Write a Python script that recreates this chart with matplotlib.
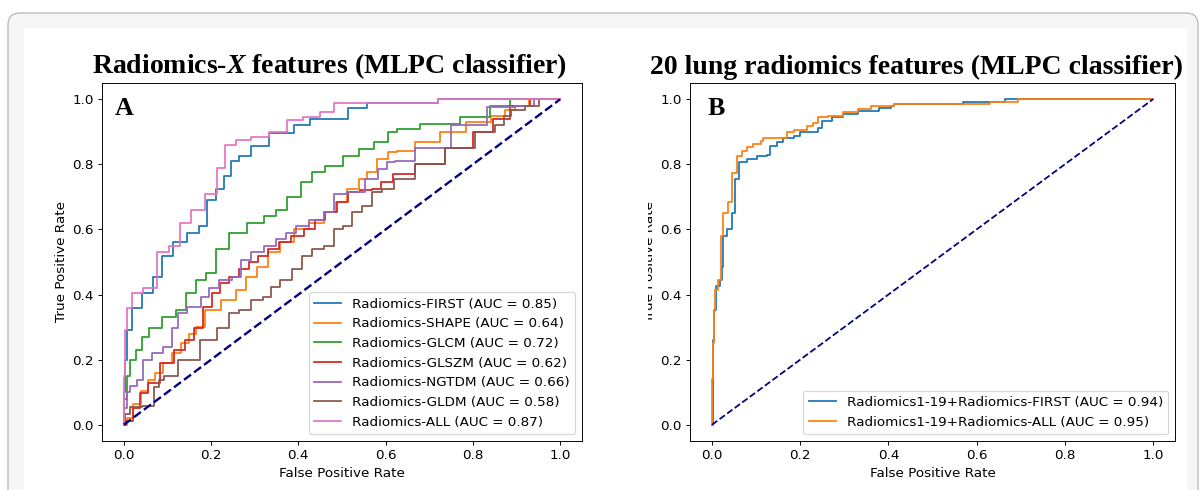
import numpy as np
import matplotlib
matplotlib.use('Agg')
import matplotlib.pyplot as plt
from matplotlib.patches import FancyBboxPatch, Rectangle
from matplotlib.transforms import IdentityTransform, Bbox

plt.rcParams['font.size'] = 11.4
plt.rcParams['mathtext.fontset'] = 'custom'
plt.rcParams['mathtext.it'] = 'Liberation Serif:bold:italic'
plt.rcParams['mathtext.rm'] = 'Liberation Serif:bold'

# panel A: Radiomics-X feature groups
first_fpr = [0, 0, 0.005, 0.009, 0.03, 0.055, 0.08, 0.096, 0.13, 0.16, 0.183, 0.2, 0.222, 0.238, 0.252, 0.275, 0.306, 0.36, 0.42, 0.435, 0.513, 0.515, 0.60, 0.72, 0.72, 1.0]
first_tpr = [0, 0.1, 0.2, 0.29, 0.36, 0.405, 0.455, 0.517, 0.56, 0.59, 0.61, 0.69, 0.725, 0.765, 0.81, 0.825, 0.855, 0.895, 0.92, 0.94, 0.94, 0.972, 0.988, 0.988, 1.0, 1.0]

shape_fpr = [0, 0.005, 0.01, 0.03, 0.05, 0.062, 0.08, 0.1, 0.12, 0.14, 0.16, 0.172, 0.2, 0.245, 0.268, 0.29, 0.32, 0.343, 0.375, 0.405, 0.444, 0.474, 0.497, 0.526, 0.55, 0.565, 0.595, 0.618, 0.634, 0.70, 0.75, 0.82, 0.863, 0.886, 0.908, 0.947, 1.0]
shape_tpr = [0, 0.0, 0.02, 0.065, 0.105, 0.136, 0.16, 0.19, 0.22, 0.25, 0.28, 0.30, 0.353, 0.384, 0.415, 0.455, 0.486, 0.53, 0.56, 0.60, 0.62, 0.653, 0.684, 0.725, 0.755, 0.777, 0.817, 0.839, 0.842, 0.87, 0.90, 0.93, 0.95, 0.966, 0.978, 1.0, 1.0]

glcm_fpr = [0, 0.003, 0.01, 0.02, 0.035, 0.05, 0.066, 0.108, 0.13, 0.153, 0.176, 0.2, 0.222, 0.26, 0.306, 0.336, 0.36, 0.39, 0.42, 0.444, 0.48, 0.526, 0.55, 0.595, 0.618, 0.634, 0.725, 0.817, 0.863, 0.908, 1.0]
glcm_tpr = [0, 0.08, 0.15, 0.2, 0.23, 0.27, 0.297, 0.33, 0.353, 0.405, 0.446, 0.467, 0.54, 0.59, 0.62, 0.64, 0.66, 0.70, 0.745, 0.776, 0.796, 0.825, 0.848, 0.87, 0.90, 0.91, 0.925, 0.947, 0.978, 1.0, 1.0]

glszm_fpr = [0, 0.01, 0.03, 0.046, 0.066, 0.1, 0.13, 0.15, 0.17, 0.192, 0.21, 0.229, 0.252, 0.275, 0.297, 0.32, 0.343, 0.366, 0.398, 0.428, 0.45, 0.474, 0.503, 0.526, 0.558, 0.58, 0.60, 0.634, 0.70, 0.77, 0.83, 0.86, 0.91, 0.95, 1.0]
glszm_tpr = [0, 0.01, 0.05, 0.096, 0.127, 0.19, 0.23, 0.26, 0.297, 0.362, 0.405, 0.436, 0.455, 0.477, 0.50, 0.517, 0.54, 0.56, 0.58, 0.60, 0.63, 0.653, 0.684, 0.715, 0.72, 0.725, 0.745, 0.77, 0.80, 0.85, 0.90, 0.94, 0.98, 1.0, 1.0]

ngtdm_fpr = [0, 0.003, 0.01, 0.02, 0.04, 0.05, 0.08, 0.1, 0.12, 0.13, 0.16, 0.192, 0.2, 0.238, 0.26, 0.275, 0.306, 0.336, 0.36, 0.382, 0.405, 0.444, 0.474, 0.49, 0.535, 0.572, 0.595, 0.61, 0.634, 0.70, 0.80, 0.863, 0.93, 0.95, 1.0]
ngtdm_tpr = [0, 0.05, 0.1, 0.12, 0.136, 0.2, 0.22, 0.24, 0.297, 0.343, 0.362, 0.393, 0.42, 0.446, 0.455, 0.507, 0.53, 0.55, 0.57, 0.59, 0.61, 0.63, 0.653, 0.71, 0.715, 0.755, 0.786, 0.807, 0.81, 0.85, 0.92, 0.975, 0.98, 1.0, 1.0]

gldm_fpr = [0, 0.005, 0.023, 0.062, 0.078, 0.085, 0.1, 0.15, 0.2, 0.229, 0.252, 0.275, 0.306, 0.33, 0.343, 0.375, 0.398, 0.42, 0.444, 0.474, 0.49, 0.513, 0.535, 0.558, 0.58, 0.604, 0.634, 0.70, 0.77, 0.84, 0.863, 0.88, 0.893, 0.947, 0.954, 1.0]
gldm_tpr = [0, 0.034, 0.053, 0.059, 0.115, 0.136, 0.15, 0.2, 0.26, 0.297, 0.343, 0.353, 0.384, 0.393, 0.424, 0.446, 0.477, 0.517, 0.54, 0.55, 0.60, 0.61, 0.653, 0.672, 0.715, 0.725, 0.755, 0.80, 0.85, 0.90, 0.92, 0.95, 0.966, 0.98, 1.0, 1.0]

all_fpr = [0, 0, 0.005, 0.01, 0.027, 0.062, 0.089, 0.12, 0.137, 0.17, 0.2, 0.226, 0.24, 0.275, 0.306, 0.36, 0.386, 0.435, 0.466, 0.497, 0.72, 0.72, 1.0]
all_tpr = [0, 0.15, 0.29, 0.36, 0.405, 0.42, 0.53, 0.55, 0.62, 0.66, 0.71, 0.79, 0.86, 0.875, 0.885, 0.90, 0.935, 0.945, 0.96, 0.988, 0.988, 1.0, 1.0]

labels_a = ['Radiomics-FIRST (AUC = 0.85)', 'Radiomics-SHAPE (AUC = 0.64)',
            'Radiomics-GLCM (AUC = 0.72)', 'Radiomics-GLSZM (AUC = 0.62)',
            'Radiomics-NGTDM (AUC = 0.66)', 'Radiomics-GLDM (AUC = 0.58)',
            'Radiomics-ALL (AUC = 0.87)']

# panel B: 20 lung features
b_first_fpr = [0, 0.002, 0.005, 0.01, 0.018, 0.022, 0.025, 0.034, 0.045, 0.052, 0.062, 0.08, 0.102, 0.125, 0.132, 0.148, 0.162, 0.185, 0.2, 0.24, 0.25, 0.273, 0.298, 0.33, 0.378, 0.405, 0.412, 0.57, 0.665, 1.0]
b_first_tpr = [0, 0.26, 0.354, 0.425, 0.446, 0.486, 0.58, 0.60, 0.652, 0.754, 0.806, 0.815, 0.825, 0.83, 0.855, 0.87, 0.882, 0.886, 0.90, 0.912, 0.932, 0.944, 0.954, 0.963, 0.972, 0.98, 0.987, 0.993, 1.0, 1.0]

b_all_fpr = [0, 0.0, 0.002, 0.005, 0.007, 0.014, 0.02, 0.025, 0.036, 0.045, 0.057, 0.068, 0.08, 0.094, 0.11, 0.116, 0.16, 0.171, 0.185, 0.216, 0.23, 0.241, 0.262, 0.298, 0.33, 0.36, 0.412, 0.63, 0.695, 1.0]
b_all_tpr = [0, 0.14, 0.25, 0.35, 0.415, 0.446, 0.58, 0.652, 0.683, 0.775, 0.825, 0.84, 0.852, 0.862, 0.872, 0.88, 0.88, 0.898, 0.907, 0.917, 0.928, 0.944, 0.95, 0.96, 0.97, 0.98, 0.987, 0.993, 1.0, 1.0]

labels_b = ['Radiomics1-19+Radiomics-FIRST (AUC = 0.94)',
            'Radiomics1-19+Radiomics-ALL (AUC = 0.95)']

curves_a = [(first_fpr, first_tpr), (shape_fpr, shape_tpr), (glcm_fpr, glcm_tpr),
            (glszm_fpr, glszm_tpr), (ngtdm_fpr, ngtdm_tpr), (gldm_fpr, gldm_tpr),
            (all_fpr, all_tpr)]
curves_b = [(b_first_fpr, b_first_tpr), (b_all_fpr, b_all_tpr)]

W, H, DPI = 1200, 490, 85
fig = plt.figure(figsize=(W / DPI, H / DPI), dpi=DPI)
fig.patch.set_facecolor('white')

# screenshot frame around the figure
frame = FancyBboxPatch((8, -20), 1190, H - 13 + 20, boxstyle='round,pad=0,rounding_size=12',
                       transform=IdentityTransform(), facecolor='#f6f6f6',
                       edgecolor='#bdbdbd', linewidth=1.2, zorder=-3)
fig.add_artist(frame)
inner = Rectangle((24, 0), 1187 - 24, H - 28, transform=IdentityTransform(),
                  facecolor='white', edgecolor='none', zorder=-2)
fig.add_artist(inner)

ax1 = fig.add_axes([102 / W, 49 / H, 480 / W, 358 / H])
ax2 = fig.add_axes([690 / W, 49 / H, 485 / W, 358 / H])

for (fpr, tpr), lab in zip(curves_a, labels_a):
    ax1.plot(fpr, tpr, drawstyle='steps-mid', label=lab)
ax1.plot([0, 1], [0, 1], color='navy', lw=2, linestyle='--')

for (fpr, tpr), lab in zip(curves_b, labels_b):
    ax2.plot(fpr, tpr, drawstyle='steps-post', label=lab)
ax2.plot([0, 1], [0, 1], color='navy', lw=1.5, linestyle='--')

titles = [r'Radiomics-$\mathit{X}$ features (MLPC classifier)',
          '20 lung radiomics features (MLPC classifier)']
title_x = [0.473, 0.466]
tags = ['A', 'B']
tag_x = [0.027, 0.036]
for ax, t, tx, tag, gx in zip([ax1, ax2], titles, title_x, tags, tag_x):
    ax.set_xlabel('False Positive Rate')
    ax.set_ylabel('True Positive Rate')
    ax.set_title(t, fontsize=23.5, fontweight='bold', family='Liberation Serif', x=tx, pad=8)
    ax.text(gx, 0.911, tag, transform=ax.transAxes, fontsize=22, fontweight='bold',
            family='Liberation Serif', va='baseline')
    ax.legend(loc='lower right')

# the right-hand panel's y label is cut off in the source image
fig.canvas.draw()
ax2.yaxis.label.set_clip_box(Bbox([[648, 0], [W, H]]))
ax2.yaxis.label.set_clip_on(True)

fig.savefig('out.png', dpi=DPI)
